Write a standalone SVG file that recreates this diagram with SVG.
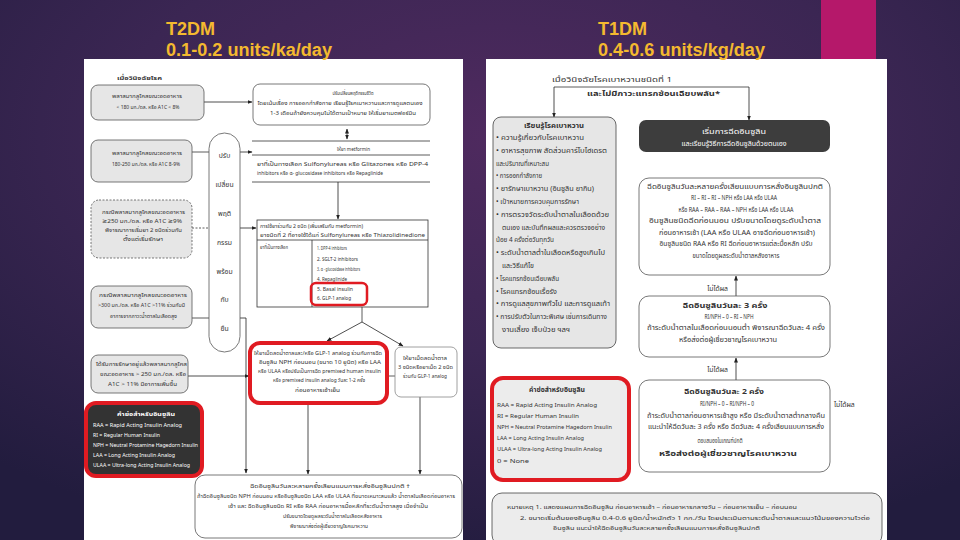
<svg xmlns="http://www.w3.org/2000/svg" width="960" height="540" viewBox="0 0 960 540">
<defs>
<radialGradient id="bg" cx="0.52" cy="0.25" r="0.8">
<stop offset="0" stop-color="#4f2a5f"/>
<stop offset="0.5" stop-color="#3b2653"/>
<stop offset="1" stop-color="#221c3e"/>
</radialGradient>
<marker id="ah" viewBox="0 0 10 10" refX="9" refY="5" markerUnits="userSpaceOnUse" markerWidth="5" markerHeight="5" orient="auto-start-reverse"><path d="M0,1 L10,5 L0,9 z" fill="#222"/></marker>
</defs>
<style>
text{font-family:"Noto Sans Thai","Noto Sans","DejaVu Sans",sans-serif;fill:#333}
.ttl{font-family:"Liberation Sans",Arial,sans-serif;font-weight:bold;font-size:18px;fill:#f4b92f}
.t{font-size:6px}
.r{font-size:6.8px}
.b{font-weight:bold}
.w{fill:#fff}
.m{text-anchor:middle}
.gbox{fill:#e6e6e6;stroke:#555;stroke-width:0.8}
.wbox{fill:#fff;stroke:#555;stroke-width:0.8}
.ln{stroke:#333;stroke-width:0.8;fill:none}
.arr{stroke:#222;stroke-width:0.8;fill:none;marker-end:url(#ah)}
</style>
<rect width="960" height="540" fill="url(#bg)"/>
<rect x="821" y="0" width="55" height="59" fill="#b5186a"/>
<rect x="84" y="59" width="379" height="481" fill="#fff"/>
<rect x="486" y="59" width="401" height="481" fill="#fff"/>
<text class="ttl" x="166" y="35">T2DM</text>
<text class="ttl" x="166" y="56" textLength="166" lengthAdjust="spacingAndGlyphs">0.1-0.2 units/ka/day</text>
<text class="ttl" x="598" y="35">T1DM</text>
<text class="ttl" x="598" y="56" textLength="167" lengthAdjust="spacingAndGlyphs">0.4-0.6 units/kg/day</text>

<g id="connectors">
<line class="arr" x1="204" y1="102" x2="252" y2="102"/>
<line class="arr" x1="347" y1="129" x2="347" y2="139" style="marker-start:url(#ah)"/>
<line class="ln" x1="252" y1="141" x2="430" y2="141"/>
<line class="ln" x1="252" y1="155" x2="430" y2="155"/>
<line class="ln" x1="252" y1="182" x2="430" y2="182"/>
<line class="arr" x1="338" y1="182" x2="338" y2="219"/>
<line class="ln" x1="192" y1="152" x2="209" y2="152"/>
<line class="arr" x1="240" y1="152" x2="252" y2="152"/>
<line class="ln" x1="192" y1="228" x2="209" y2="228" stroke-dasharray="2 1.5"/>
<line class="arr" x1="240" y1="228" x2="256" y2="228"/>
<line class="ln" x1="192" y1="318" x2="209" y2="318"/>
<polyline class="arr" points="240,318 246,318 246,473"/>
<line class="arr" x1="188" y1="376" x2="249" y2="376"/>
<line class="ln" x1="362" y1="307" x2="362" y2="322"/>
<line class="arr" x1="362" y1="322" x2="327" y2="341"/>
<line class="arr" x1="362" y1="322" x2="403" y2="346"/>
<line class="ln" x1="387" y1="376" x2="395" y2="376"/>
<line class="arr" x1="308" y1="403" x2="308" y2="474"/>
<line class="arr" x1="420" y1="397" x2="420" y2="474"/>
<line class="ln" x1="554" y1="87" x2="749" y2="87"/>
<line class="arr" x1="554" y1="87" x2="554" y2="117"/>
<line class="arr" x1="749" y1="87" x2="749" y2="120"/>
<line class="arr" x1="736" y1="296" x2="736" y2="276"/>
<line class="arr" x1="736" y1="380" x2="736" y2="358"/>
<text class="r" x="728" y="291" text-anchor="end">ไม่ได้ผล</text>
<text class="r" x="728" y="372" text-anchor="end">ไม่ได้ผล</text>
<text class="r" x="834" y="407">ไม่ได้ผล</text>
</g>

<g id="n-dx">
<text class="t b" x="117" y="80" textLength="45" lengthAdjust="spacingAndGlyphs">เมื่อวินิจฉัยโรค</text>
</g>
<g id="n-fpg-lt180">
<rect class="gbox" x="91" y="85" width="113" height="35" rx="7"/>
<text class="t m" x="147" y="98" textLength="70" lengthAdjust="spacingAndGlyphs">พลาสมากลูโคสขณะอดอาหาร</text>
<text class="t m" x="148" y="109" textLength="63" lengthAdjust="spacingAndGlyphs">&lt; 180 มก./ดล. หรือ A1C &lt; 8%</text>
</g>
<g id="n-lifestyle">
<rect class="wbox" x="253" y="84" width="177" height="41" rx="7"/>
<text class="t m" x="353" y="95" textLength="41" lengthAdjust="spacingAndGlyphs">ปรับเปลี่ยนพฤติกรรมชีวิต</text>
<text class="t m" x="340" y="105" textLength="165" lengthAdjust="spacingAndGlyphs">โดยเน้นเรื่อง การออกกำลังกาย เรียนรู้โรคเบาหวานและการดูแลตนเอง</text>
<text class="t m" x="343" y="115" textLength="146" lengthAdjust="spacingAndGlyphs">1-3 เดือนถ้ายังควบคุมไม่ได้ตามเป้าหมาย ให้เริ่มยาเมตฟอร์มิน</text>
</g>
<g id="n-metformin">
<text class="t" x="337" y="151" textLength="33" lengthAdjust="spacingAndGlyphs">ให้ยา metformin</text>
<text class="t" x="257" y="166" textLength="171" lengthAdjust="spacingAndGlyphs">ยาที่เป็นทางเลือก  Sulfonylureas หรือ Glitazones หรือ DPP-4</text>
<text class="t" x="257" y="175" textLength="126" lengthAdjust="spacingAndGlyphs">inhibitors หรือ α- glucosidase inhibitors หรือ Repaglinide</text>
</g>
<g id="n-pill">
<rect class="wbox" x="209" y="133" width="31" height="219" rx="15.5"/>
<text class="r m" x="224.5" y="158">ปรับ</text>
<text class="r m" x="224.5" y="187">เปลี่ยน</text>
<text class="r m" x="224.5" y="216">พฤติ</text>
<text class="r m" x="224.5" y="245">กรรม</text>
<text class="r m" x="224.5" y="274">พร้อม</text>
<text class="r m" x="224.5" y="302">กับ</text>
<text class="r m" x="224.5" y="331">ยืน</text>
</g>
<g id="n-fpg-180-250">
<rect class="gbox" x="91" y="140" width="101" height="42" rx="7"/>
<text class="t m" x="147" y="155" textLength="70" lengthAdjust="spacingAndGlyphs">พลาสมากลูโคสขณะอดอาหาร</text>
<text class="t m" x="146" y="166" textLength="68" lengthAdjust="spacingAndGlyphs">180-250 มก./ดล. หรือ A1C 8-9%</text>
</g>
<g id="n-fpg-ge250">
<rect class="gbox" x="91" y="200" width="101" height="58" rx="8" stroke-dasharray="2 1.5"/>
<text class="t m" x="143.5" y="214" textLength="83" lengthAdjust="spacingAndGlyphs">กรณีพลาสมากลูโคสขณะอดอาหาร</text>
<text class="t m" x="142" y="223" textLength="80" lengthAdjust="spacingAndGlyphs">≥250 มก./ดล. หรือ A1C ≥9%</text>
<text class="t m" x="143.5" y="232" textLength="77" lengthAdjust="spacingAndGlyphs">พิจารณาการเริ่มยา 2 ชนิดร่วมกัน</text>
<text class="t m" x="143" y="241" textLength="40" lengthAdjust="spacingAndGlyphs">ตั้งแต่เริ่มรักษา</text>
</g>
<g id="n-two-drugs">
<rect x="257" y="220" width="171" height="87" fill="#fff" stroke="#333" stroke-width="0.8"/>
<line class="ln" x1="257" y1="240" x2="428" y2="240"/>
<line class="ln" x1="312" y1="240" x2="312" y2="307"/>
<text class="t" x="260" y="228" textLength="103" lengthAdjust="spacingAndGlyphs">การใช้ยาร่วมกัน 2 ชนิด (เพิ่มเสริมกับ metformin)</text>
<text class="t" x="260" y="237" textLength="165" lengthAdjust="spacingAndGlyphs">ยาชนิดที่ 2 ที่อาจใช้ได้แก่ Sulfonylureas หรือ Thiazolidinedione</text>
<text class="t" x="260" y="249" textLength="28" lengthAdjust="spacingAndGlyphs">ยาที่เป็นทางเลือก</text>
<text class="t" x="317" y="250" textLength="30" lengthAdjust="spacingAndGlyphs">1. DPP-4 inhibitors</text>
<text class="t" x="317" y="261" font-size="7" textLength="41" lengthAdjust="spacingAndGlyphs">2. SGLT-2 inhibitors</text>
<text class="t" x="317" y="271" textLength="43" lengthAdjust="spacingAndGlyphs">3. α - glucosidase inhibitors</text>
<text class="t" x="317" y="281" textLength="30" lengthAdjust="spacingAndGlyphs">4. Repaglinide</text>
<text class="t" x="317" y="291" font-size="7" textLength="36" lengthAdjust="spacingAndGlyphs">5. Basal insulin</text>
<text class="t" x="317" y="300" textLength="34" lengthAdjust="spacingAndGlyphs">6. GLP-1 analog</text>
<rect x="311" y="283" width="56" height="22" rx="5" fill="none" stroke="#e01b22" stroke-width="2.5"/>
</g>
<g id="n-fpg-gt300">
<rect class="gbox" x="91" y="286" width="101" height="42" rx="7"/>
<text class="t m" x="143" y="297" textLength="88" lengthAdjust="spacingAndGlyphs">กรณีพลาสมากลูโคสขณะอดอาหาร</text>
<text class="t m" x="141.5" y="307" textLength="87" lengthAdjust="spacingAndGlyphs">&gt;300 มก./ดล. หรือ A1C &gt;11% ร่วมกับมี</text>
<text class="t m" x="143.5" y="318" textLength="67" lengthAdjust="spacingAndGlyphs">อาการจากภาวะน้ำตาลในเลือดสูง</text>
</g>
<g id="n-treated">
<rect class="gbox" x="91" y="355" width="97" height="38" rx="7"/>
<text class="t m" x="141.5" y="366" textLength="91" lengthAdjust="spacingAndGlyphs">ได้รับการรักษาอยู่แล้วพลาสมากลูโคส</text>
<text class="t m" x="143" y="376" textLength="86" lengthAdjust="spacingAndGlyphs">ขณะอดอาหาร &gt; 250 มก./ดล. หรือ</text>
<text class="t m" x="142.5" y="386" textLength="69" lengthAdjust="spacingAndGlyphs">A1C &gt; 11% มีอาการเพิ่มขึ้น</text>
</g>
<g id="n-basal-add">
<rect x="250" y="343" width="137" height="60" rx="10" fill="#fff" stroke="#e01b22" stroke-width="4"/>
<text class="t m" x="318" y="355" textLength="128" lengthAdjust="spacingAndGlyphs">ให้ยาเม็ดลดน้ำตาลและ/หรือ GLP-1 analog ร่วมกับการฉีด</text>
<text class="t m" x="320" y="364" textLength="122" lengthAdjust="spacingAndGlyphs">อินซูลิน NPH ก่อนนอน (ขนาด 10 ยูนิต) หรือ LAA</text>
<text class="t m" x="319.5" y="373" textLength="123" lengthAdjust="spacingAndGlyphs">หรือ ULAA หรือปรับเป็นการฉีด premixed human insulin</text>
<text class="t m" x="319" y="382" textLength="92" lengthAdjust="spacingAndGlyphs">หรือ premixed insulin analog วันละ 1-2 ครั้ง</text>
<text class="t m" x="317.5" y="392" textLength="45" lengthAdjust="spacingAndGlyphs">ก่อนอาหารเช้าเย็น</text>
</g>
<g id="n-three-oral">
<rect x="395" y="347" width="62" height="50" rx="6" fill="#fff" stroke="#888" stroke-width="0.8"/>
<text class="t m" x="425" y="360" textLength="44" lengthAdjust="spacingAndGlyphs">ให้ยาเม็ดลดน้ำตาล</text>
<text class="t m" x="425.5" y="369" textLength="55" lengthAdjust="spacingAndGlyphs">3 ชนิดหรือยาเม็ด 2 ชนิด</text>
<text class="t m" x="425" y="378" textLength="44" lengthAdjust="spacingAndGlyphs">ร่วมกับ GLP-1 analog</text>
</g>
<g id="n-abbr-left">
<rect x="86" y="403" width="116" height="73" rx="10" fill="#333" stroke="#e01b22" stroke-width="4"/>
<text class="t w m b" x="146" y="416" font-size="6.5" textLength="58" lengthAdjust="spacingAndGlyphs">คำย่อสำหรับอินซูลิน</text>
<text class="t w" x="93" y="427" font-size="5.3" textLength="89" lengthAdjust="spacingAndGlyphs">RAA = Rapid Acting Insulin Analog</text>
<text class="t w" x="93" y="437" font-size="5.3" textLength="67" lengthAdjust="spacingAndGlyphs">RI    = Regular Human Insulin</text>
<text class="t w" x="93" y="447" font-size="5.3" textLength="105" lengthAdjust="spacingAndGlyphs">NPH = Neutral Protamine Hagedorn Insulin</text>
<text class="t w" x="93" y="457" font-size="5.3" textLength="82" lengthAdjust="spacingAndGlyphs">LAA = Long Acting Insulin Analog</text>
<text class="t w" x="93" y="467" font-size="5.3" textLength="97" lengthAdjust="spacingAndGlyphs">ULAA = Ultra-long Acting Insulin Analog</text>
</g>
<g id="n-mdi-left">
<rect class="wbox" x="195" y="475" width="267" height="63" rx="10"/>
<text class="t m" x="330" y="488" textLength="160" lengthAdjust="spacingAndGlyphs">ฉีดอินซูลินวันละหลายครั้งเลียนแบบการหลั่งอินซูลินปกติ †</text>
<text class="t m" x="326" y="498" textLength="258" lengthAdjust="spacingAndGlyphs">ถ้าฉีดอินซูลินชนิด NPH ก่อนนอน หรืออินซูลินชนิด LAA หรือ ULAA ที่ขนาดเหมาะสมแล้ว น้ำตาลในเลือดก่อนอาหาร</text>
<text class="t m" x="328" y="508" textLength="200" lengthAdjust="spacingAndGlyphs">เช้า และ ฉีดอินซูลินชนิด RI หรือ RAA ก่อนอาหารมื้อหลักที่ระดับน้ำตาลสูง เมื่อจำเป็น</text>
<text class="t m" x="332.5" y="518" textLength="99" lengthAdjust="spacingAndGlyphs">ปรับขนาดโดยดูผลระดับน้ำตาลในเลือดหลังอาหาร</text>
<text class="t m" x="329" y="528" textLength="78" lengthAdjust="spacingAndGlyphs">พิจารณาส่งต่อผู้เชี่ยวชาญโรคเบาหวาน</text>
</g>

<g id="n-t1-dx">
<text class="r" x="552" y="82" textLength="120" lengthAdjust="spacingAndGlyphs">เมื่อวินิจฉัยโรคเบาหวานชนิดที่ 1</text>
<text class="r b" x="587" y="96" font-size="7.5" textLength="133" lengthAdjust="spacingAndGlyphs">และไม่มีภาวะแทรกซ้อนเฉียบพลัน*</text>
</g>
<g id="n-t1-learn">
<rect x="493" y="117" width="123" height="231" rx="8" fill="#e6e6e6" stroke="#444" stroke-width="0.8"/>
<text class="r m b" x="554" y="128" textLength="60" lengthAdjust="spacingAndGlyphs">เรียนรู้โรคเบาหวาน</text>
<text class="r" x="496" y="140" textLength="88" lengthAdjust="spacingAndGlyphs">• ความรู้เกี่ยวกับโรคเบาหวาน</text>
<text class="r" x="496" y="152.8" textLength="111" lengthAdjust="spacingAndGlyphs">• อาหารสุขภาพ สัดส่วนคาร์โบไฮเดรต</text>
<text class="r" x="496" y="165.6" textLength="53" lengthAdjust="spacingAndGlyphs">และปริมาณที่เหมาะสม</text>
<text class="r" x="496" y="178.4" textLength="46" lengthAdjust="spacingAndGlyphs">• การออกกำลังกาย</text>
<text class="r" x="496" y="191.2" textLength="98" lengthAdjust="spacingAndGlyphs">• ยารักษาเบาหวาน (อินซูลิน ยากิน)</text>
<text class="r" x="496" y="204" textLength="83" lengthAdjust="spacingAndGlyphs">• เป้าหมายการควบคุมการรักษา</text>
<text class="r" x="496" y="216.8" textLength="113" lengthAdjust="spacingAndGlyphs">• การตรวจวัดระดับน้ำตาลในเลือดด้วย</text>
<text class="r" x="502" y="229.6" textLength="103" lengthAdjust="spacingAndGlyphs">ตนเอง และบันทึกผลและควรตรวจอย่าง</text>
<text class="r" x="496" y="242.4" textLength="58" lengthAdjust="spacingAndGlyphs">น้อย 4 ครั้งต่อวันทุกวัน</text>
<text class="r" x="496" y="255.2" textLength="109" lengthAdjust="spacingAndGlyphs">• ระดับน้ำตาลต่ำในเลือดหรือสูงเกินไป</text>
<text class="r" x="502" y="268" textLength="32" lengthAdjust="spacingAndGlyphs">และวิธีแก้ไข</text>
<text class="r" x="496" y="280.8" textLength="63" lengthAdjust="spacingAndGlyphs">• โรคแทรกซ้อนเฉียบพลัน</text>
<text class="r" x="496" y="293.6" textLength="61" lengthAdjust="spacingAndGlyphs">• โรคแทรกซ้อนเรื้อรัง</text>
<text class="r" x="496" y="306.4" textLength="114" lengthAdjust="spacingAndGlyphs">• การดูแลสุขภาพทั่วไป และการดูแลเท้า</text>
<text class="r" x="496" y="319.2" textLength="111" lengthAdjust="spacingAndGlyphs">• การปรับตัวในภาวะพิเศษ เช่นการเดินทาง</text>
<text class="r" x="502" y="332" textLength="68" lengthAdjust="spacingAndGlyphs">งานเลี้ยง เจ็บป่วย ฯลฯ</text>
</g>
<g id="n-t1-start">
<rect x="639" y="120" width="191" height="32" rx="7" fill="#3d3d3d"/>
<text class="r w m" x="734" y="134" textLength="64" lengthAdjust="spacingAndGlyphs">เริ่มการฉีดอินซูลิน</text>
<text class="r w m" x="734" y="146" textLength="105" lengthAdjust="spacingAndGlyphs">และเรียนรู้วิธีการฉีดอินซูลินด้วยตนเอง</text>
</g>
<g id="n-t1-mdi">
<rect class="wbox" x="639" y="178" width="191" height="97" rx="10"/>
<text class="r m" x="735" y="189" textLength="176" lengthAdjust="spacingAndGlyphs">ฉีดอินซูลินวันละหลายครั้งเลียนแบบการหลั่งอินซูลินปกติ</text>
<text class="r m" x="734" y="200" textLength="86" lengthAdjust="spacingAndGlyphs">RI – RI – RI – NPH หรือ LAA หรือ ULAA</text>
<text class="r m" x="736" y="212" textLength="115" lengthAdjust="spacingAndGlyphs">หรือ RAA – RAA – RAA – NPH หรือ LAA หรือ ULAA</text>
<text class="r m" x="735" y="223" textLength="172" lengthAdjust="spacingAndGlyphs">อินซูลินชนิดฉีดก่อนนอน ปรับขนาดโดยดูระดับน้ำตาล</text>
<text class="r m" x="737" y="235" textLength="156" lengthAdjust="spacingAndGlyphs">ก่อนอาหารเช้า (LAA หรือ ULAA อาจฉีดก่อนอาหารเช้า)</text>
<text class="r m" x="736" y="246" textLength="153" lengthAdjust="spacingAndGlyphs">อินซูลินชนิด RAA หรือ RI ฉีดก่อนอาหารแต่ละมื้อหลัก ปรับ</text>
<text class="r m" x="736" y="258" textLength="87" lengthAdjust="spacingAndGlyphs">ขนาดโดยดูผลระดับน้ำตาลหลังอาหาร</text>
</g>
<g id="n-t1-three">
<rect class="wbox" x="639" y="296" width="191" height="61" rx="10"/>
<text class="r m b" x="725" y="308" textLength="85" lengthAdjust="spacingAndGlyphs">ฉีดอินซูลินวันละ 3 ครั้ง</text>
<text class="r m" x="729" y="319" textLength="49" lengthAdjust="spacingAndGlyphs">RI/NPH – 0 – RI – NPH</text>
<text class="r m" x="736" y="330" textLength="178" lengthAdjust="spacingAndGlyphs">ถ้าระดับน้ำตาลในเลือดก่อนนอนต่ำ พิจารณาฉีดวันละ 4 ครั้ง</text>
<text class="r m" x="728" y="342" textLength="98" lengthAdjust="spacingAndGlyphs">หรือส่งต่อผู้เชี่ยวชาญโรคเบาหวาน</text>
</g>
<g id="n-t1-two">
<rect class="wbox" x="639" y="380" width="191" height="92" rx="10"/>
<text class="r m b" x="724" y="394" textLength="80" lengthAdjust="spacingAndGlyphs">ฉีดอินซูลินวันละ 2 ครั้ง</text>
<text class="r m" x="727" y="406" textLength="54" lengthAdjust="spacingAndGlyphs">RI/NPH – 0 – RI/NPH – 0</text>
<text class="r m" x="736" y="418" textLength="178" lengthAdjust="spacingAndGlyphs">ถ้าระดับน้ำตาลก่อนอาหารเช้าสูง หรือ มีระดับน้ำตาลต่ำกลางคืน</text>
<text class="r m" x="736" y="429" textLength="176" lengthAdjust="spacingAndGlyphs">แนะนำให้ฉีดวันละ 3 ครั้ง หรือ ฉีดวันละ 4 ครั้งเลียนแบบการหลั่ง</text>
<text class="r m" x="720" y="443" textLength="45" lengthAdjust="spacingAndGlyphs">ตอบสนองในเกณฑ์ปกติ</text>
<text class="r m b" x="728" y="456" textLength="138" lengthAdjust="spacingAndGlyphs">หรือส่งต่อผู้เชี่ยวชาญโรคเบาหวาน</text>
</g>
<g id="n-abbr-right">
<rect x="492" y="378" width="137" height="102" rx="11" fill="#ececec" stroke="#e01b22" stroke-width="4"/>
<text class="r m b" x="557" y="392" textLength="56" lengthAdjust="spacingAndGlyphs">คำย่อสำหรับอินซูลิน</text>
<text class="t" x="497" y="407" textLength="100" lengthAdjust="spacingAndGlyphs">RAA   =  Rapid Acting Insulin Analog</text>
<text class="t" x="497" y="418" textLength="82" lengthAdjust="spacingAndGlyphs">RI     =  Regular Human Insulin</text>
<text class="t" x="497" y="429" textLength="115" lengthAdjust="spacingAndGlyphs">NPH = Neutral Protamine Hagedorn Insulin</text>
<text class="t" x="497" y="440" textLength="87" lengthAdjust="spacingAndGlyphs">LAA   =  Long Acting Insulin Analog</text>
<text class="t" x="497" y="451" textLength="105" lengthAdjust="spacingAndGlyphs">ULAA = Ultra-long Acting Insulin Analog</text>
<text class="t" x="497" y="463" textLength="32" lengthAdjust="spacingAndGlyphs">0       = None</text>
</g>
<g id="n-t1-note">
<rect x="492" y="493" width="390" height="52" rx="10" fill="#ececec" stroke="#444" stroke-width="0.8"/>
<text class="t" x="507" y="509" font-size="6.3" textLength="290" lengthAdjust="spacingAndGlyphs">หมายเหตุ  1. แสดงแผนการฉีดอินซูลิน ก่อนอาหารเช้า – ก่อนอาหารกลางวัน – ก่อนอาหารเย็น – ก่อนนอน</text>
<text class="t" x="520" y="520" font-size="6.3" textLength="350" lengthAdjust="spacingAndGlyphs">2. ขนาดเริ่มต้นของอินซูลิน 0.4-0.6 ยูนิต/น้ำหนักตัว 1 กก./วัน โดยประเมินตามระดับน้ำตาลและแนวโน้มของความไวต่อ</text>
<text class="t" x="553" y="530" font-size="6.3" textLength="207" lengthAdjust="spacingAndGlyphs">อินซูลิน แนะนำให้ฉีดอินซูลินวันละหลายครั้งเลียนแบบการหลั่งอินซูลินปกติ</text>
</g>
</svg>
